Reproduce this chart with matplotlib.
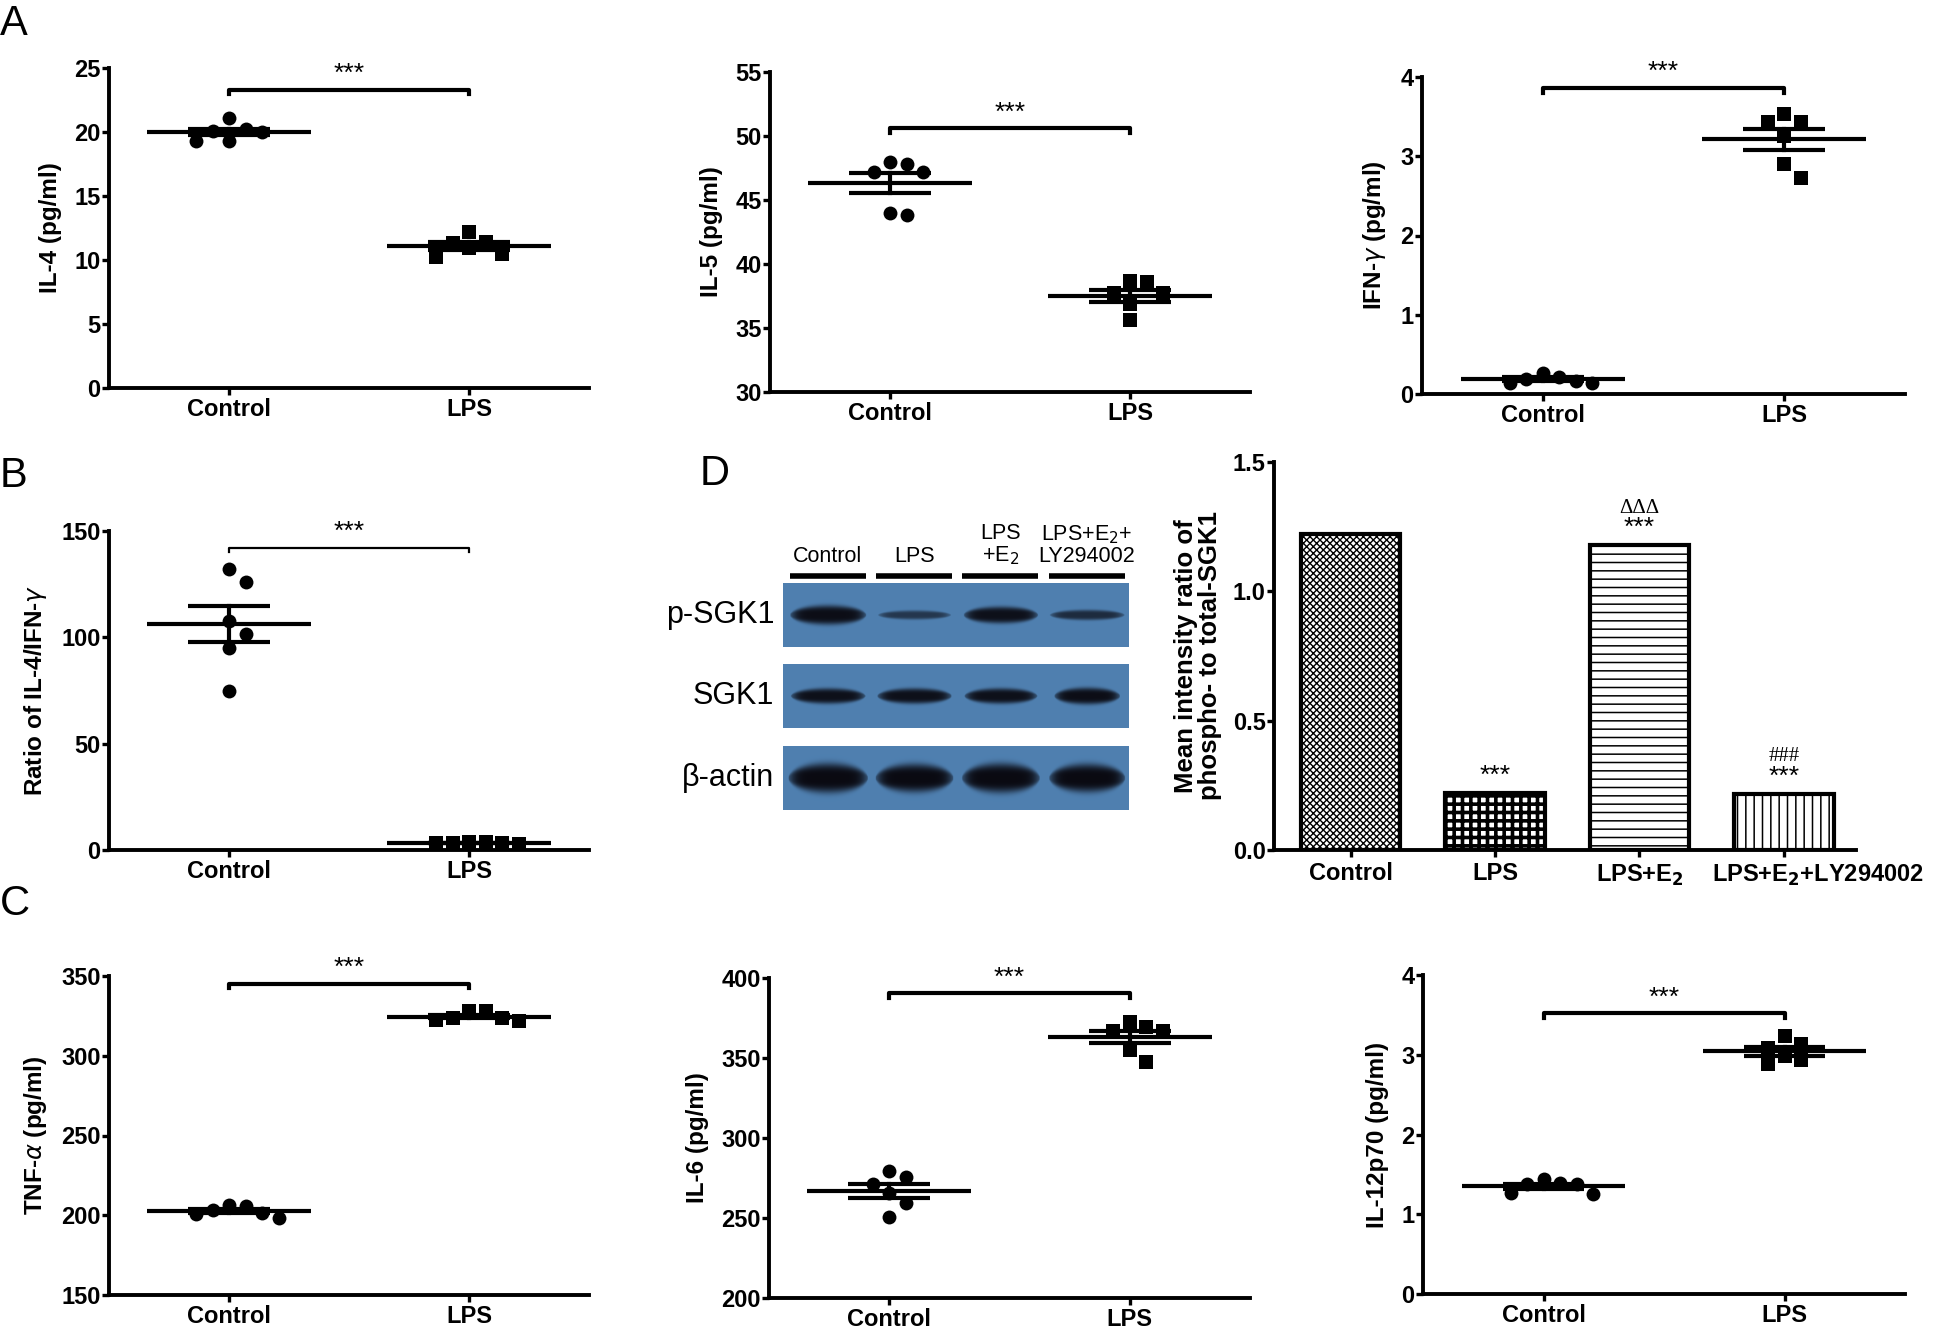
import matplotlib
matplotlib.use('Agg')
import matplotlib.pyplot as plt
import numpy as np

plt.rcParams['font.family'] = ['Liberation Sans', 'DejaVu Sans']
plt.rcParams['mathtext.fontset'] = 'dejavusans'
plt.rcParams['hatch.linewidth'] = 1.0

# ---- data ----
groups = ['Control', 'LPS']

il4_control = [20.2, 20.0, 21.1, 19.3, 19.3, 20.1]
il4_lps = [12.2, 11.4, 11.3, 10.9, 10.2, 10.5]
il5_control = [48.0, 47.2, 47.2, 47.8, 43.8, 44.0]
il5_lps = [38.7, 37.7, 37.7, 38.6, 36.9, 35.6]
ifng_control = [0.22, 0.17, 0.14, 0.14, 0.19, 0.27]
ifng_lps = [3.53, 3.43, 3.43, 3.26, 2.90, 2.72]
ratio_control = [132.3, 126.2, 107.7, 101.8, 95.2, 74.8]
ratio_lps = [3.6, 3.2, 3.0, 3.3, 3.4, 3.6]
tnf_control = [205.5, 201.3, 198.2, 200.7, 203.4, 206.5]
tnf_lps = [328.1, 323.5, 321.8, 322.2, 323.5, 328.1]
il6_control = [271.3, 275.9, 279.1, 265.5, 259.6, 250.4]
il6_lps = [372.6, 367.0, 367.0, 369.5, 354.8, 347.7]
il12_control = [1.39, 1.38, 1.25, 1.27, 1.38, 1.44]
il12_lps = [3.14, 3.08, 3.23, 2.99, 2.88, 2.94]

bar_groups = ['Control', 'LPS', 'LPS+E$_\\mathbf{2}$', 'LPS+E$_\\mathbf{2}$+LY294002']
bar_values = [1.22, 0.22, 1.18, 0.218]
bar_marks = [[], ['***'], ['***', 'ΔΔΔ'], ['***', '###']]

blot_lanes = ['Control', 'LPS', 'LPS\n+E$_2$', 'LPS+E$_2$+\nLY294002']
blot_rows = ['p-SGK1', 'SGK1', 'β-actin']
band_intensity = [[0.97, 0.62, 0.95, 0.72],
                  [0.95, 0.95, 0.95, 0.97],
                  [1.0, 1.0, 1.0, 1.0]]

# ---- layout ----
W, H = 1944, 1328
fig = plt.figure(figsize=(W / 100, H / 100), dpi=100)


def px_rect(l, t, r, b):
    return [l / W, 1 - b / H, (r - l) / W, (b - t) / H]


def style_axes(ax, size=17):
    for s in ['top', 'right']:
        ax.spines[s].set_visible(False)
    for s in ['left', 'bottom']:
        ax.spines[s].set_linewidth(2.8)
    ax.tick_params(width=2.4, length=5, labelsize=size, direction='out')
    ax.tick_params(axis='x', pad=2)
    ax.tick_params(axis='y', pad=1)
    for lab in ax.get_xticklabels() + ax.get_yticklabels():
        lab.set_fontweight('bold')


def swarm_offsets(ax, vals, width_px, step_px=16.5):
    # spread points that overlap in pixel space, GraphPad-style
    yy = ax.transData.transform(np.column_stack([np.zeros(len(vals)), vals]))[:, 1]
    placed = []
    offs = np.zeros(len(vals))
    for k in np.argsort(vals)[::-1]:
        for n in [0, 1, -1, 2, -2, 3, -3, 4, -4]:
            dx = n * step_px
            if all(np.hypot(dx - px, yy[k] - py) >= step_px * 0.95 for px, py in placed):
                break
        placed.append((dx, yy[k]))
        offs[k] = dx
    return offs * 2.0 / width_px


def scatter_panel(rect_px, ctrl, lps, ylim, yticks, ylabel, sig, thin=False):
    l, t, r, b = rect_px
    ax = fig.add_axes(px_rect(*rect_px))
    ax.set_xlim(-0.5, 1.5)
    ax.set_ylim(*ylim)
    ax.set_yticks(yticks)
    ax.set_xticks([0, 1])
    ax.set_xticklabels(groups)
    for i, (vals, mk, ms) in enumerate([(ctrl, 'o', 100), (lps, 's', 88)]):
        vals = np.asarray(vals)
        offs = swarm_offsets(ax, vals, r - l)
        ax.scatter(i + offs, vals, marker=mk, s=ms, color='black', zorder=3,
                   linewidths=0, clip_on=False)
        m = vals.mean()
        se = vals.std(ddof=1) / np.sqrt(len(vals))
        ax.plot([i - 0.34, i + 0.34], [m, m], color='black', lw=3, zorder=4,
                solid_capstyle='butt')
        for v in (m - se, m + se):
            ax.plot([i - 0.17, i + 0.17], [v, v], color='black', lw=3, zorder=4,
                    solid_capstyle='butt')
        ax.plot([i, i], [m - se, m + se], color='black', lw=3, zorder=4)
    # significance bracket
    yr = ylim[1] - ylim[0]
    drop = 0.014 * yr
    ax.plot([0, 0, 1, 1], [sig - drop, sig, sig, sig - drop], color='black',
            lw=1.6 if thin else 3, clip_on=False, zorder=5)
    ax.text(0.5, sig + 0.012 * yr, '***', ha='center', va='bottom', fontsize=19)
    ax.set_ylabel(ylabel, fontsize=17.5, fontweight='bold', labelpad=9)
    style_axes(ax)
    return ax


scatter_panel((109, 68, 589, 388), il4_control, il4_lps, (0, 25), range(0, 26, 5),
              'IL-4 (pg/ml)', 23.3)
scatter_panel((770, 72, 1250, 392), il5_control, il5_lps, (30, 55), range(30, 56, 5),
              'IL-5 (pg/ml)', 50.6)
scatter_panel((1422, 77, 1905, 394), ifng_control, ifng_lps, (0, 4), range(0, 5),
              'IFN-$\\gamma$ (pg/ml)', 3.86)
scatter_panel((109, 531, 589, 850), ratio_control, ratio_lps, (0, 150), range(0, 151, 50),
              'Ratio of IL-4/IFN-$\\gamma$', 142, thin=True)
scatter_panel((109, 976, 589, 1295), tnf_control, tnf_lps, (150, 350), range(150, 351, 50),
              'TNF-$\\alpha$ (pg/ml)', 345.2)
scatter_panel((769, 978, 1250, 1298), il6_control, il6_lps, (200, 400), range(200, 401, 50),
              'IL-6 (pg/ml)', 390.4)
scatter_panel((1423, 975, 1905, 1294), il12_control, il12_lps, (0, 4), range(0, 5),
              'IL-12p70 (pg/ml)', 3.52)

# ---- D: bar chart ----
axd = fig.add_axes(px_rect(1274, 462, 1856, 850))
xb = np.arange(len(bar_values))
hatches = ['xxxxx', '++', '--', '||']
hatch_lw = [1.0, 2.6, 1.1, 1.1]
bars = axd.bar(xb, bar_values, width=0.69, color='white', edgecolor='black',
               linewidth=3, zorder=2)
for bar, h, hl in zip(bars, hatches, hatch_lw):
    bar.set_hatch(h)
    if hasattr(bar, 'set_hatch_linewidth'):
        bar.set_hatch_linewidth(hl)
axd.set_xlim(-0.53, 3.5)
axd.set_ylim(0, 1.5)
axd.set_yticks([0, 0.5, 1.0, 1.5])
axd.set_yticklabels(['0.0', '0.5', '1.0', '1.5'])
axd.set_xticks(xb)
axd.set_xticklabels(bar_groups[:-1] + [''])
# the last category label runs off to the right in the original
axd.annotate(bar_groups[-1], xy=(xb[-1], 0), xycoords=('data', 'axes fraction'),
             xytext=(-52, -9), textcoords='offset points', ha='left', va='top',
             fontsize=17, fontweight='bold', annotation_clip=False)
for i, marks in enumerate(bar_marks):
    for j, mk in enumerate(marks):
        if mk == '***':
            axd.text(i, bar_values[i] + 0.02, mk, ha='center', va='bottom', fontsize=19)
        else:
            axd.text(i, bar_values[i] + 0.105, mk, ha='center', va='bottom', fontsize=15,
                     family=['Liberation Serif', 'DejaVu Serif'])
axd.set_ylabel('Mean intensity ratio of\nphospho- to total-SGK1', fontsize=18.5,
               fontweight='bold', labelpad=8, linespacing=1.0)
style_axes(axd)
axd.tick_params(axis='x', pad=4)

# ---- D: western blot ----
axb = fig.add_axes(px_rect(783, 583, 1128, 810))
gap = 0.28
axb.set_xlim(0, 4)
axb.set_ylim(3 + 2 * gap, 0)
axb.axis('off')
bg = np.array([0.31, 0.50, 0.69])
dark = np.array([0.04, 0.04, 0.07])
band_half_h = [[0.15, 0.07, 0.13, 0.08], [0.12, 0.12, 0.12, 0.13], [0.23, 0.22, 0.23, 0.22]]
band_half_w = [[0.44, 0.42, 0.43, 0.43], [0.43, 0.43, 0.42, 0.38], [0.46, 0.45, 0.45, 0.44]]
nx, ny = 600, 90
gx = np.linspace(0, 4, nx)
gy = np.linspace(0, 1, ny)
X, Y = np.meshgrid(gx, gy)
for r in range(len(blot_rows)):
    d = np.zeros_like(X)
    for j in range(len(blot_lanes)):
        xc = j + 0.52
        dx = (X - xc) / band_half_w[r][j]
        hx = band_half_h[r][j] * np.sqrt(np.clip(1 - dx ** 2, 0, 1)) + 1e-4
        prof = np.exp(-((Y - 0.5) / hx) ** 4) * np.exp(-np.abs(dx) ** 8)
        d = np.maximum(d, band_intensity[r][j] * prof)
    img = bg[None, None, :] * (1 - d[..., None]) + dark[None, None, :] * d[..., None]
    top = r * (1 + gap)
    axb.imshow(img, extent=(0, 4, top + 1, top), aspect='auto', interpolation='bilinear')
    axb.text(-0.1, top + 0.5, blot_rows[r], ha='right', va='center', fontsize=22)
for j, lab in enumerate(blot_lanes):
    axb.plot([j + 0.08, j + 0.96], [-0.11, -0.11], color='black', lw=4,
             solid_capstyle='butt', clip_on=False)
    axb.text(j + 0.52, -0.25, lab, ha='center', va='bottom', fontsize=15.5,
             linespacing=1.0, multialignment='center')

# ---- panel letters ----
for letter, x, y in [('A', 0, 4), ('B', 0, 456), ('C', 0, 884), ('D', 700, 454)]:
    fig.text(x / W, 1 - y / H, letter, fontsize=30, ha='left', va='top')

fig.savefig('out.png', dpi=100)
